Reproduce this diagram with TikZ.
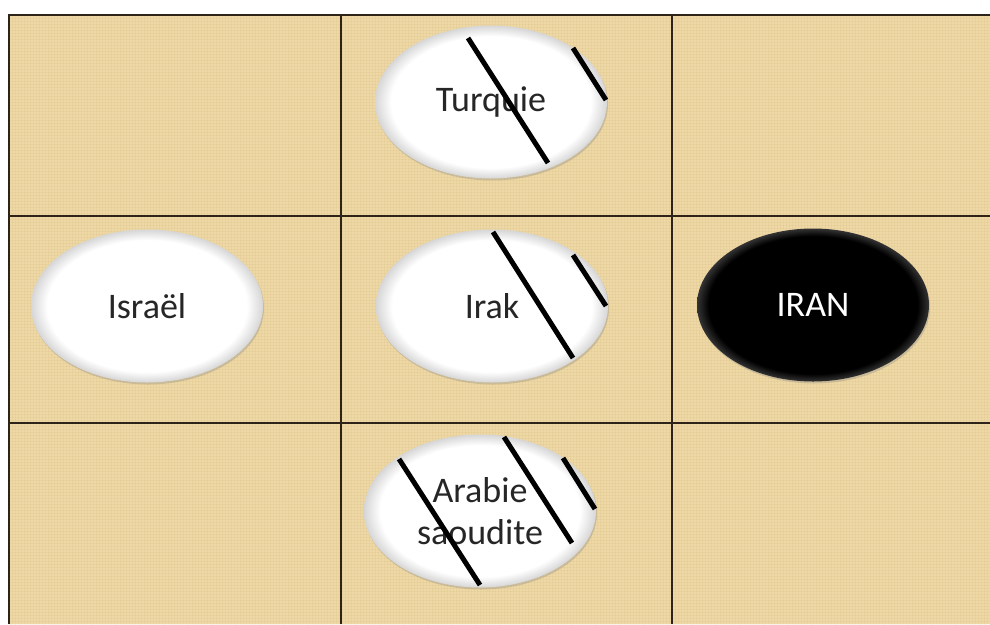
\documentclass[tikz,border=0pt]{standalone}
\usepackage{fontspec}
\setmainfont{Carlito}
\usetikzlibrary{shapes.geometric,shadows,patterns}
\definecolor{papyrus}{RGB}{238,216,166}
\definecolor{cweave}{RGB}{190,160,95}
\definecolor{cgrid}{RGB}{45,35,25}
\pgfdeclareradialshading{plate}{\pgfpoint{0bp}{0bp}}{color(0bp)=(white); color(21.5bp)=(white); color(25bp)=(black!16); color(50bp)=(black!16)}
\pgfdeclareradialshading{stone}{\pgfpoint{0bp}{0bp}}{color(0bp)=(black); color(22.5bp)=(black); color(25bp)=(black!80); color(50bp)=(black!80)}
\tikzset{
  country/.style={ellipse, minimum width=232pt, minimum height=153pt, inner sep=0pt, align=center,
    font=\fontsize{36}{42}\selectfont, text=black!85,
    drop shadow={opacity=0.3, shadow xshift=1pt, shadow yshift=-2pt}},
  ally/.style={country, shading=plate},
  rival/.style={country, shading=stone, text=white},
  slash/.style={line width=5pt, black},
  gridline/.style={line width=1.4pt, draw=cgrid},
}
\begin{document}
\begin{tikzpicture}[x=1pt,y=-1pt]
\useasboundingbox (0,0) rectangle (990,624);
% papyrus board
\fill[papyrus] (9,15) rectangle (990,624);
\fill[pattern=grid, pattern color=cweave, opacity=0.1] (9,15) rectangle (990,624);
% 3x3 grid
\draw[gridline] (990,15) -- (9,15) -- (9,624);
\foreach \x in {341,672} \draw[gridline] (\x,15) -- (\x,624);
\foreach \y in {216,423} \draw[gridline] (9,\y) -- (990,\y);
% countries
\node[ally] (tur) at (491,102) {Turquie};
\node[ally] (isr) at (147,306) {Israël};
\node[ally] (irq) at (492,306) {Irak};
\node[rival] (irn) at (813,305) {IRAN};
\node[ally] (sau) at (480,511) {Arabie\\saoudite};
% strikes
\foreach \xa/\ya/\xb/\yb in {468/38/548/163, 573/48/606/100, 493/232/573/358, 573/255/606/306,
  399/459/480/585, 504/437/572/543, 563/458/595/509}
  \draw[slash] (\xa,\ya) -- (\xb,\yb);
\end{tikzpicture}
\end{document}
